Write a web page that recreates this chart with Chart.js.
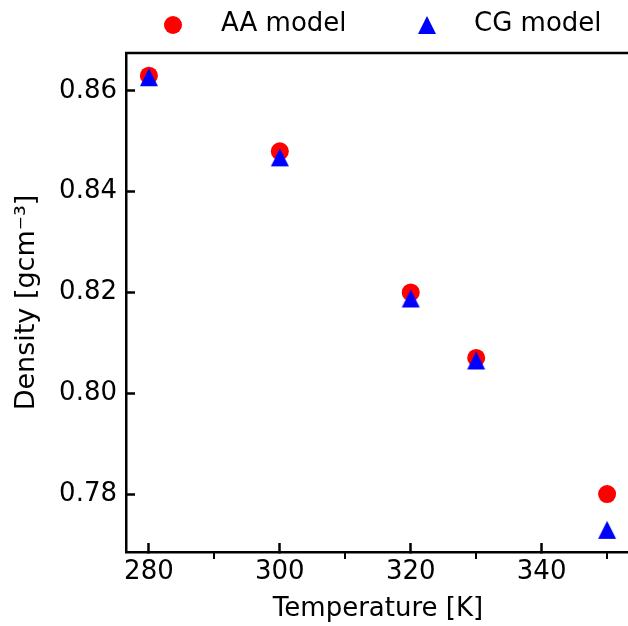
<!DOCTYPE html>
<html>
<head>
<meta charset="utf-8">
<script src="https://cdn.jsdelivr.net/npm/chart.js@4.4.0/dist/chart.umd.min.js"></script>
<style>
    html, body { margin: 0; padding: 0; background: #fff; overflow: hidden; }
    #wrap { width: 628px; height: 626px; overflow: hidden; }
    canvas { display: block; }
</style>
</head>
<body>
<div id="wrap"><canvas id="density-chart" width="640" height="626"></canvas></div>
<script>
var temperatures = [280, 300, 320, 330, 350];
var aaDensity = [0.863, 0.848, 0.820, 0.807, 0.780];
var cgDensity = [0.8627, 0.8468, 0.8188, 0.8065, 0.7729];
var seriesLabels = ["AA model", "CG model"];
var xTicks = [280, 300, 320, 340];
var xMinorTicks = [290, 310, 330, 350];
var yTicks = [0.78, 0.80, 0.82, 0.84, 0.86];

(function () {
    var canvas = document.getElementById("density-chart");
    var ctx = canvas.getContext("2d");
    var font = "DejaVu Sans";

    // matplotlib-like "^" marker: triangle centred on its bounding box
    var tri = document.createElement("canvas");
    tri.width = 20;
    tri.height = 20;
    var tctx = tri.getContext("2d");
    tctx.fillStyle = "#0000ff";
    tctx.beginPath();
    tctx.moveTo(10, 1);
    tctx.lineTo(19, 19);
    tctx.lineTo(1, 19);
    tctx.closePath();
    tctx.fill();

    function points(ys) {
        return temperatures.map(function (t, i) {
            return { x: t, y: ys[i] };
        });
    }

    var frame = {
        id: "frame",
        afterDraw: function (chart) {
            var c = chart.ctx;
            var a = chart.chartArea;
            var xs = chart.scales.x;
            c.save();
            c.strokeStyle = "#000";
            c.lineWidth = 2.5;
            // top spine (right spine falls just outside the picture)
            c.beginPath();
            c.moveTo(a.left - 1, a.top);
            c.lineTo(a.right + 2, a.top);
            c.stroke();

            // minor ticks point outward
            c.lineWidth = 2;
            xMinorTicks.forEach(function (v) {
                var px = Math.round(xs.getPixelForValue(v));
                c.beginPath();
                c.moveTo(px, a.bottom + 1);
                c.lineTo(px, a.bottom + 7);
                c.stroke();
            });

            // legend above the axes
            var ds = chart.data.datasets;
            c.fillStyle = ds[0].backgroundColor;
            c.beginPath();
            c.arc(173, 25, 9, 0, Math.PI * 2);
            c.fill();
            c.drawImage(tri, 427 - 10, 25 - 10);
            c.fillStyle = "#000";
            c.font = "26px '" + font + "'";
            c.textBaseline = "middle";
            c.fillText(ds[0].label, 221, 24);
            c.fillText(ds[1].label, 474, 24);
            c.restore();
        },
    };

    new Chart(ctx, {
        type: "scatter",
        data: {
            datasets: [
                {
                    label: seriesLabels[0],
                    data: points(aaDensity),
                    backgroundColor: "#ff0000",
                    borderWidth: 0,
                    pointStyle: "circle",
                    pointRadius: 9,
                    pointHoverRadius: 9,
                    order: 1,
                },
                {
                    label: seriesLabels[1],
                    data: points(cgDensity),
                    backgroundColor: "#0000ff",
                    borderWidth: 0,
                    pointStyle: tri,
                    pointRadius: 9,
                    pointHoverRadius: 9,
                    order: 0,
                },
            ],
        },
        options: {
            responsive: false,
            animation: false,
            devicePixelRatio: 1,
            layout: { padding: { top: 53, right: 10, left: 0, bottom: 0 } },
            scales: {
                x: {
                    type: "linear",
                    min: 276.5,
                    max: 353.5,
                    afterFit: function (s) { s.height = 74; },
                    afterBuildTicks: function (s) {
                        s.ticks = xTicks.map(function (v) { return { value: v }; });
                    },
                    grid: {
                        drawOnChartArea: false,
                        drawTicks: true,
                        tickLength: -9,
                        tickWidth: 2.5,
                        tickColor: "#000",
                    },
                    border: { display: true, color: "#000", width: 2.5 },
                    ticks: {
                        padding: 14,
                        color: "#000",
                        font: { family: font, size: 26 },
                        maxRotation: 0,
                        callback: function (v) { return String(v); },
                    },
                    title: {
                        display: true,
                        text: "Temperature [K]",
                        color: "#000",
                        font: { family: font, size: 26 },
                        padding: { top: 0, bottom: 1 },
                    },
                },
                y: {
                    type: "linear",
                    min: 0.7685,
                    max: 0.8675,
                    afterFit: function (s) { s.width = 126; },
                    afterBuildTicks: function (s) {
                        s.ticks = yTicks.map(function (v) { return { value: v }; });
                    },
                    grid: {
                        drawOnChartArea: false,
                        drawTicks: true,
                        tickLength: -9,
                        tickWidth: 2.5,
                        tickColor: "#000",
                    },
                    border: { display: true, color: "#000", width: 2.5 },
                    ticks: {
                        padding: 18,
                        color: "#000",
                        font: { family: font, size: 26 },
                        callback: function (v) { return v.toFixed(2); },
                    },
                    title: {
                        display: true,
                        text: "Density [gcm\u207B\u00B3]",
                        color: "#000",
                        font: { family: font, size: 27 },
                        padding: { top: 11, bottom: 0 },
                    },
                },
            },
            plugins: {
                legend: { display: false },
                tooltip: { enabled: false },
            },
        },
        plugins: [frame],
    });
})();
</script>
</body>
</html>
